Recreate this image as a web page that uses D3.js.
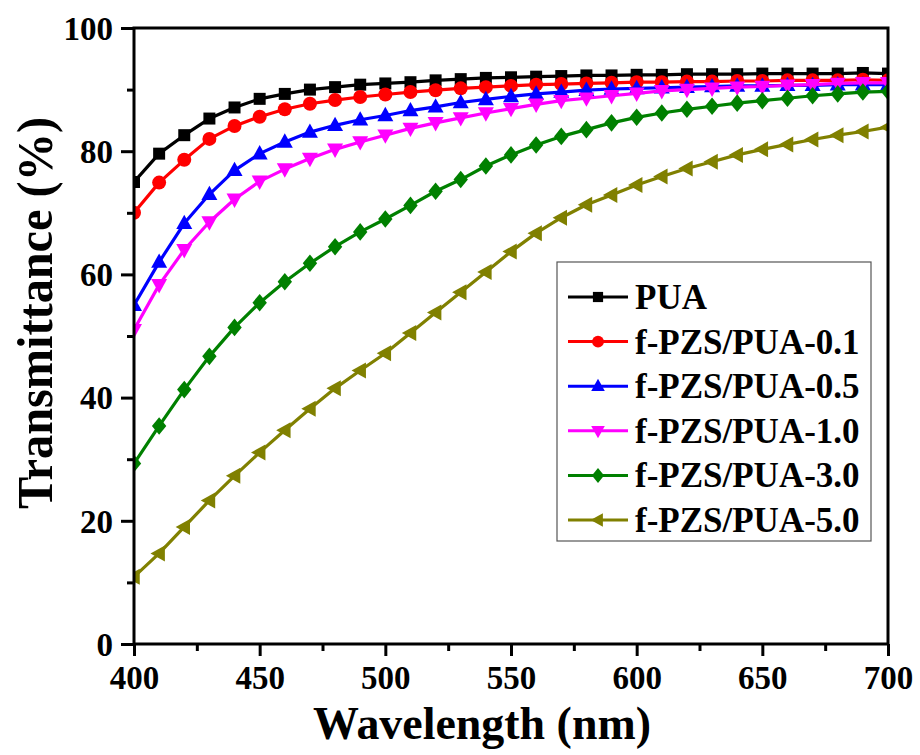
<!DOCTYPE html>
<html>
<head>
<meta charset="utf-8">
<script src="https://cdn.jsdelivr.net/npm/d3@7"></script>
<style>
  html, body { margin: 0; padding: 0; background: #fff; }
  svg { display: block; }
  text { font-family: "Liberation Serif", "Times New Roman", serif; font-weight: bold; fill: #000; }
</style>
</head>
<body>
<svg id="chart" width="920" height="755"></svg>
<script>
// ---- data ----
const wavelengths = d3.range(400, 701, 10);
const seriesNames = ["PUA", "f-PZS/PUA-0.1", "f-PZS/PUA-0.5", "f-PZS/PUA-1.0", "f-PZS/PUA-3.0", "f-PZS/PUA-5.0"];
const pua = [75.0, 79.6, 82.6, 85.3, 87.1, 88.5, 89.3, 90.0, 90.4, 90.8, 91.0, 91.2, 91.5, 91.7, 91.9, 92.0, 92.1, 92.2, 92.3, 92.3, 92.4, 92.4, 92.5, 92.5, 92.5, 92.6, 92.6, 92.6, 92.6, 92.7, 92.6];
const pzs01 = [70.0, 74.9, 78.6, 82.0, 84.1, 85.6, 86.8, 87.7, 88.3, 88.8, 89.2, 89.6, 89.9, 90.2, 90.4, 90.6, 90.8, 90.9, 91.0, 91.1, 91.2, 91.2, 91.3, 91.3, 91.4, 91.4, 91.5, 91.5, 91.5, 91.6, 91.5];
const pzs05 = [55.0, 62.0, 68.3, 73.0, 76.9, 79.6, 81.5, 83.1, 84.2, 85.1, 85.8, 86.6, 87.2, 87.9, 88.4, 88.9, 89.3, 89.6, 89.9, 90.1, 90.2, 90.3, 90.4, 90.5, 90.6, 90.6, 90.7, 90.7, 90.8, 90.8, 90.8];
const pzs10 = [51.0, 58.3, 64.0, 68.5, 72.2, 75.1, 77.1, 78.8, 80.3, 81.5, 82.6, 83.7, 84.6, 85.4, 86.2, 86.9, 87.6, 88.2, 88.6, 89.0, 89.4, 89.8, 90.0, 90.2, 90.4, 90.5, 90.7, 90.8, 91.0, 91.1, 91.1];
const pzs30 = [29.3, 35.4, 41.3, 46.7, 51.4, 55.4, 58.8, 61.8, 64.5, 66.9, 69.0, 71.2, 73.5, 75.4, 77.6, 79.4, 81.0, 82.4, 83.5, 84.6, 85.5, 86.2, 86.8, 87.3, 87.8, 88.2, 88.6, 89.0, 89.3, 89.6, 89.7];
const pzs50 = [10.9, 14.7, 19.0, 23.3, 27.3, 31.1, 34.7, 38.2, 41.5, 44.4, 47.2, 50.5, 53.8, 57.1, 60.4, 63.7, 66.7, 69.2, 71.3, 72.9, 74.5, 75.9, 77.2, 78.3, 79.4, 80.3, 81.1, 81.9, 82.6, 83.2, 83.9];
const xTicks = [400, 450, 500, 550, 600, 650, 700];
const yTicks = [0, 20, 40, 60, 80, 100];
const xTitle = "Wavelength (nm)";
const yTitle = "Transmittance (%)";

const colors = ["#000000", "#ff0000", "#0000ff", "#ff00ff", "#008000", "#808000"];
const shapes = ["square", "circle", "triangleUp", "triangleDown", "diamond", "triangleLeft"];
const seriesValues = [pua, pzs01, pzs05, pzs10, pzs30, pzs50];

// ---- layout ----
const svg = d3.select("#chart");
const L = 134, R = 888, T = 28, B = 644;
const x = d3.scaleLinear().domain([400, 700]).range([L, R]);
const y = d3.scaleLinear().domain([0, 100]).range([B, T]);

function markerPath(shape, s) {
  const p = d3.path();
  if (shape === "square") { p.rect(-s/2, -s/2, s, s); }
  else if (shape === "circle") { p.arc(0, 0, s/2, 0, 2*Math.PI); }
  else if (shape === "triangleUp") { const h = s*0.9; p.moveTo(0, -h*0.6); p.lineTo(s/2, h*0.4); p.lineTo(-s/2, h*0.4); p.closePath(); }
  else if (shape === "triangleDown") { const h = s*0.9; p.moveTo(0, h*0.6); p.lineTo(s/2, -h*0.4); p.lineTo(-s/2, -h*0.4); p.closePath(); }
  else if (shape === "triangleLeft") { const h = s*0.9; p.moveTo(-h*0.6, 0); p.lineTo(h*0.4, -s/2); p.lineTo(h*0.4, s/2); p.closePath(); }
  else if (shape === "diamond") { p.moveTo(0, -s*0.55); p.lineTo(s*0.45, 0); p.lineTo(0, s*0.55); p.lineTo(-s*0.45, 0); p.closePath(); }
  return p.toString();
}
const markerSize = {square: 12, circle: 14, triangleUp: 16, triangleDown: 16, diamond: 16, triangleLeft: 16};

svg.append("defs").append("clipPath").attr("id", "plotclip")
  .append("rect").attr("x", L).attr("y", T).attr("width", R - L).attr("height", B - T);

const plot = svg.append("g").attr("clip-path", "url(#plotclip)");
const line = d3.line().x(d => x(d[0])).y(d => y(d[1]));

seriesValues.forEach((vals, i) => {
  const pts = wavelengths.map((w, j) => [w, vals[j]]);
  const g = plot.append("g");
  g.append("path").datum(pts).attr("d", line)
    .attr("fill", "none").attr("stroke", colors[i]).attr("stroke-width", 3.2).attr("stroke-linejoin", "round");
  g.selectAll("path.m").data(pts).join("path").attr("class", "m")
    .attr("transform", d => `translate(${x(d[0])},${y(d[1])})`)
    .attr("d", markerPath(shapes[i], markerSize[shapes[i]]))
    .attr("fill", colors[i]);
});

// ---- axes ----
const xAxis = d3.axisBottom(x).tickValues(xTicks).tickSize(12).tickPadding(10).tickFormat(d3.format("d"));
const yAxis = d3.axisLeft(y).tickValues(yTicks).tickSize(13).tickPadding(8).tickFormat(d3.format("d"));
const xMinor = d3.axisBottom(x).tickValues(d3.range(425, 700, 50)).tickSize(7).tickFormat("");
const yMinor = d3.axisLeft(y).tickValues(d3.range(10, 100, 20)).tickSize(7).tickFormat("");

function styleAxis(g) {
  g.select(".domain").remove();
  g.selectAll(".tick line").attr("stroke", "#000").attr("stroke-width", 3);
  g.selectAll(".tick text").attr("font-size", 33).attr("font-family", "Liberation Serif").attr("font-weight", "bold").attr("fill", "#000");
}
svg.append("g").attr("transform", `translate(0,${B})`).call(xMinor).call(styleAxis);
svg.append("g").attr("transform", `translate(${L},0)`).call(yMinor).call(styleAxis);
svg.append("g").attr("transform", `translate(0,${B})`).call(xAxis).call(styleAxis)
  .selectAll(".tick text").attr("dy", "0.71em");
svg.append("g").attr("transform", `translate(${L},0)`).call(yAxis).call(styleAxis)
  .selectAll(".tick text").attr("dy", "0.34em");

// frame
svg.append("rect").attr("x", L).attr("y", T).attr("width", R - L).attr("height", B - T)
  .attr("fill", "none").attr("stroke", "#000").attr("stroke-width", 3);

// titles
svg.append("text").attr("x", 482).attr("y", 739).attr("text-anchor", "middle")
  .attr("font-size", 46).attr("textLength", 338).attr("lengthAdjust", "spacingAndGlyphs").text(xTitle);
svg.append("text").attr("transform", "translate(52,313) rotate(-90)").attr("text-anchor", "middle")
  .attr("font-size", 50).attr("textLength", 392).attr("lengthAdjust", "spacingAndGlyphs").text(yTitle);

// ---- legend ----
const lg = svg.append("g");
lg.append("rect").attr("x", 557).attr("y", 262).attr("width", 314).attr("height", 279)
  .attr("fill", "#fff").attr("stroke", "#555").attr("stroke-width", 1.2);
seriesNames.forEach((name, i) => {
  const cy = 297 + i * 44.6;
  lg.append("line").attr("x1", 568).attr("x2", 628).attr("y1", cy).attr("y2", cy)
    .attr("stroke", colors[i]).attr("stroke-width", 3);
  lg.append("path").attr("transform", `translate(598,${cy})`)
    .attr("d", markerPath(shapes[i], markerSize[shapes[i]] * 0.85)).attr("fill", colors[i]);
  lg.append("text").attr("x", 635).attr("y", cy + 12).attr("font-size", 35).text(name);
});
</script>
</body>
</html>
